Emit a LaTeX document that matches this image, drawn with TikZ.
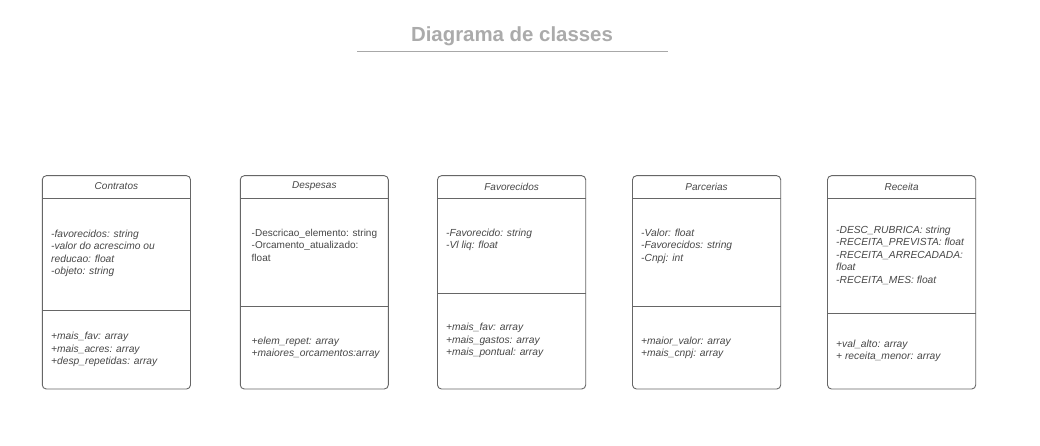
\documentclass[tikz,border=0pt]{standalone}
\usepackage{fontspec}
\setmainfont{Liberation Sans}
\begin{document}
\begin{tikzpicture}[x=1pt,y=-1pt,
  classbox/.style={draw=boxline, line width=0.9pt, rounded corners=4pt, fill=white},
  divider/.style={draw=boxline, line width=0.9pt},
  classname/.style={font=\fontsize{10}{12.5}\selectfont\itshape, text=txt, inner sep=0pt},
  members/.style={font=\fontsize{10.25}{12.6}\selectfont\itshape, text=txt, inner sep=0pt, align=left, anchor=north west},
  plainmembers/.style={members, font=\fontsize{10}{12.6}\selectfont\upshape},
]
\definecolor{boxline}{HTML}{666666}
\definecolor{txt}{HTML}{474747}
\definecolor{titlegray}{HTML}{ABABAB}
\definecolor{rulegray}{HTML}{A8A8A8}
\useasboundingbox (0,0) rectangle (1040,446);
\fill[white] (0,0) rectangle (1040,446);

% page title
\node[font=\fontsize{20.4}{24}\selectfont\bfseries, text=titlegray, inner sep=0pt] (title) at (512,36) {Diagrama de classes};
\coordinate (ruleL) at (357,51.5);
\coordinate (ruleR) at (668,51.5);
\draw[rulegray, line width=1pt] (ruleL) -- (ruleR);

% Contratos
\draw[classbox] (42.3,175.7) rectangle (190.5,389);
\draw[divider] (42.3,198.3) -- (190.5,198.3);
\draw[divider] (42.3,310.7) -- (190.5,310.7);
\node[classname] (contratos) at (116.4,186.5) {Contratos};
\node[members] (contratosA) at (51,228) {\strut-favorecidos: string\\-valor do acrescimo ou\\reducao: float\\-objeto: string\strut};
\node[members] (contratosM) at (51,330.4) {\strut+mais\_fav: array\\+mais\_acres: array\\+desp\_repetidas: array\strut};

% Despesas
\draw[classbox] (240.3,175.7) rectangle (388.3,389);
\draw[divider] (240.3,198.3) -- (388.3,198.3);
\draw[divider] (240.3,306) -- (388.3,306);
\node[classname] (despesas) at (314.3,186.5) {Despesas};
\node[plainmembers] (despesasA) at (251.5,227) {\strut-Descricao\_elemento: string\\-Orcamento\_atualizado:\\float\strut};
\node[members] (despesasM) at (251.5,335) {\strut+elem\_repet: array\\+maiores\_orcamentos:array\strut};

% Favorecidos
\draw[classbox] (437.5,175.7) rectangle (585.7,389);
\draw[divider] (437.5,198.3) -- (585.7,198.3);
\draw[divider] (437.5,293.3) -- (585.7,293.3);
\node[classname] (favorecidos) at (511.6,186.5) {Favorecidos};
\node[members] (favorecidosA) at (446,227) {\strut-Favorecido: string\\-Vl liq: float\strut};
\node[members] (favorecidosM) at (446,321.4) {\strut+mais\_fav: array\\+mais\_gastos: array\\+mais\_pontual: array\strut};

% Parcerias
\draw[classbox] (632.5,175.7) rectangle (780.7,389);
\draw[divider] (632.5,198.3) -- (780.7,198.3);
\draw[divider] (632.5,306) -- (780.7,306);
\node[classname] (parcerias) at (706.6,186.5) {Parcerias};
\node[members] (parceriasA) at (641,227) {\strut-Valor: float\\-Favorecidos: string\\-Cnpj: int\strut};
\node[members] (parceriasM) at (641,335) {\strut+maior\_valor: array\\+mais\_cnpj: array\strut};

% Receita
\draw[classbox] (827.5,175.7) rectangle (975.7,389);
\draw[divider] (827.5,198.3) -- (975.7,198.3);
\draw[divider] (827.5,313.3) -- (975.7,313.3);
\node[classname] (receita) at (901.6,186.5) {Receita};
\node[members] (receitaA) at (836,224) {\strut-DESC\_RUBRICA: string\\-RECEITA\_PREVISTA: float\\-RECEITA\_ARRECADADA:\\float\\-RECEITA\_MES: float\strut};
\node[members] (receitaM) at (836,338) {\strut+val\_alto: array\\+ receita\_menor: array\strut};
\end{tikzpicture}
\end{document}
